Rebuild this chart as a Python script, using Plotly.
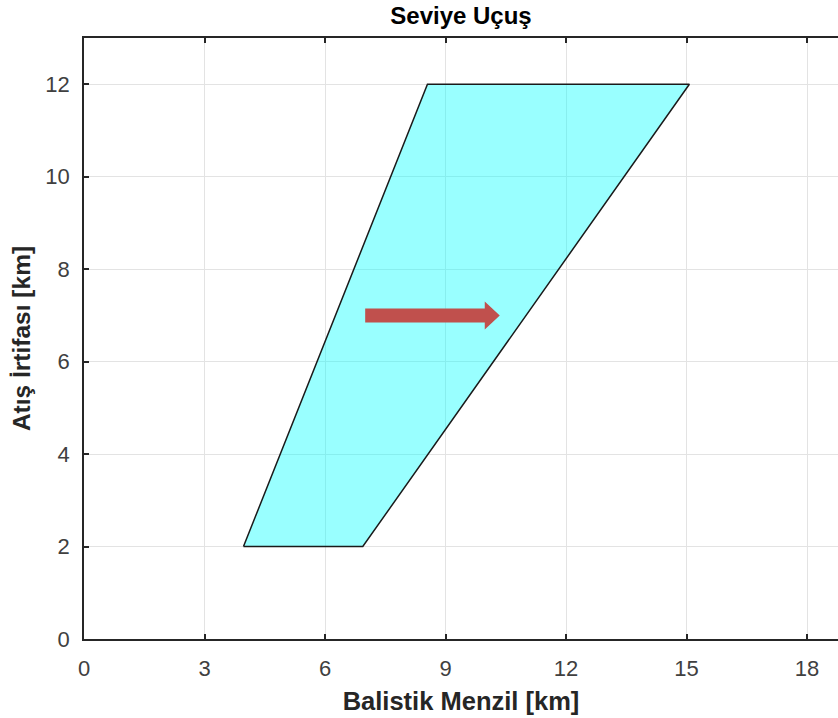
import plotly.graph_objects as go

# Data
region_x = [3.97, 6.94, 15.07, 8.55, 3.97]
region_y = [2.0, 2.0, 12.0, 12.0, 2.0]
arrow_start = (7.0, 7.0)
arrow_end = (10.35, 7.0)
x_ticks = [0, 3, 6, 9, 12, 15, 18]
y_ticks = [0, 2, 4, 6, 8, 10, 12]

W, H = 838, 718
ml, mr, mt, mb = 84, 0, 38, 79
x_range = [0, (W - ml - mr) / 40.17]
y_range = [0, 13]

# arrow geometry (pixels -> data units)
px_x = (W - ml - mr) / (x_range[1] - x_range[0])
px_y = (H - mt - mb) / (y_range[1] - y_range[0])
body_h = 7.0 / px_y
head_h = 14.0 / px_y
head_l = 15.0 / px_x
x0, y0 = arrow_start
x1, y1 = arrow_end
xb = x1 - head_l
arrow_xs = [x0, xb, xb, x1, xb, xb, x0, x0]
arrow_ys = [y0 - body_h, y0 - body_h, y0 - head_h, y0, y0 + head_h, y0 + body_h, y0 + body_h, y0 - body_h]

fig = go.Figure()
fig.add_trace(go.Scatter(
    x=region_x, y=region_y, mode="lines", fill="toself",
    fillcolor="rgba(0,255,255,0.4)", line=dict(color="#1a1a1a", width=1.5),
    hoverinfo="skip", showlegend=False))
fig.add_trace(go.Scatter(
    x=arrow_xs, y=arrow_ys, mode="lines", fill="toself",
    fillcolor="#C0504D", line=dict(color="#C0504D", width=0),
    hoverinfo="skip", showlegend=False))

font_family = "Liberation Sans, Arial, sans-serif"
fig.update_layout(
    width=W, height=H,
    margin=dict(l=ml, r=mr, t=mt, b=mb),
    paper_bgcolor="white", plot_bgcolor="white",
    font=dict(family=font_family, color="#262626"),
    title=dict(text="<b>Seviye Uçuş</b>", x=(ml + (W - ml) / 2) / W, xanchor="center",
               y=1 - 16 / H, yanchor="middle",
               font=dict(size=24, color="#000000", family=font_family)),
    xaxis=dict(range=x_range, tickvals=x_ticks, ticktext=[str(v) for v in x_ticks],
               showgrid=True, gridcolor="#e3e3e3", gridwidth=1, zeroline=False,
               showline=True, linecolor="#262626", linewidth=1.5, mirror="ticks",
               ticks="inside", ticklen=5, tickcolor="#262626", tickwidth=1.5,
               tickfont=dict(size=22, color="#404040"), ticklabelstandoff=9,
               title=dict(text="<b>Balistik Menzil [km]</b>", font=dict(size=25.5, color="#262626"),
                          standoff=12)),
    yaxis=dict(range=y_range, tickvals=y_ticks, ticktext=[str(v) for v in y_ticks],
               showgrid=True, gridcolor="#e3e3e3", gridwidth=1, zeroline=False,
               showline=True, linecolor="#262626", linewidth=1.5, mirror=False,
               ticks="inside", ticklen=5, tickcolor="#262626", tickwidth=1.5,
               tickfont=dict(size=22, color="#404040"), ticklabelstandoff=8,
               title=dict(text="<b>Atış İrtifası [km]</b>", font=dict(size=24.5, color="#262626"),
                          standoff=8)),
)
fig.write_html("out.html")
